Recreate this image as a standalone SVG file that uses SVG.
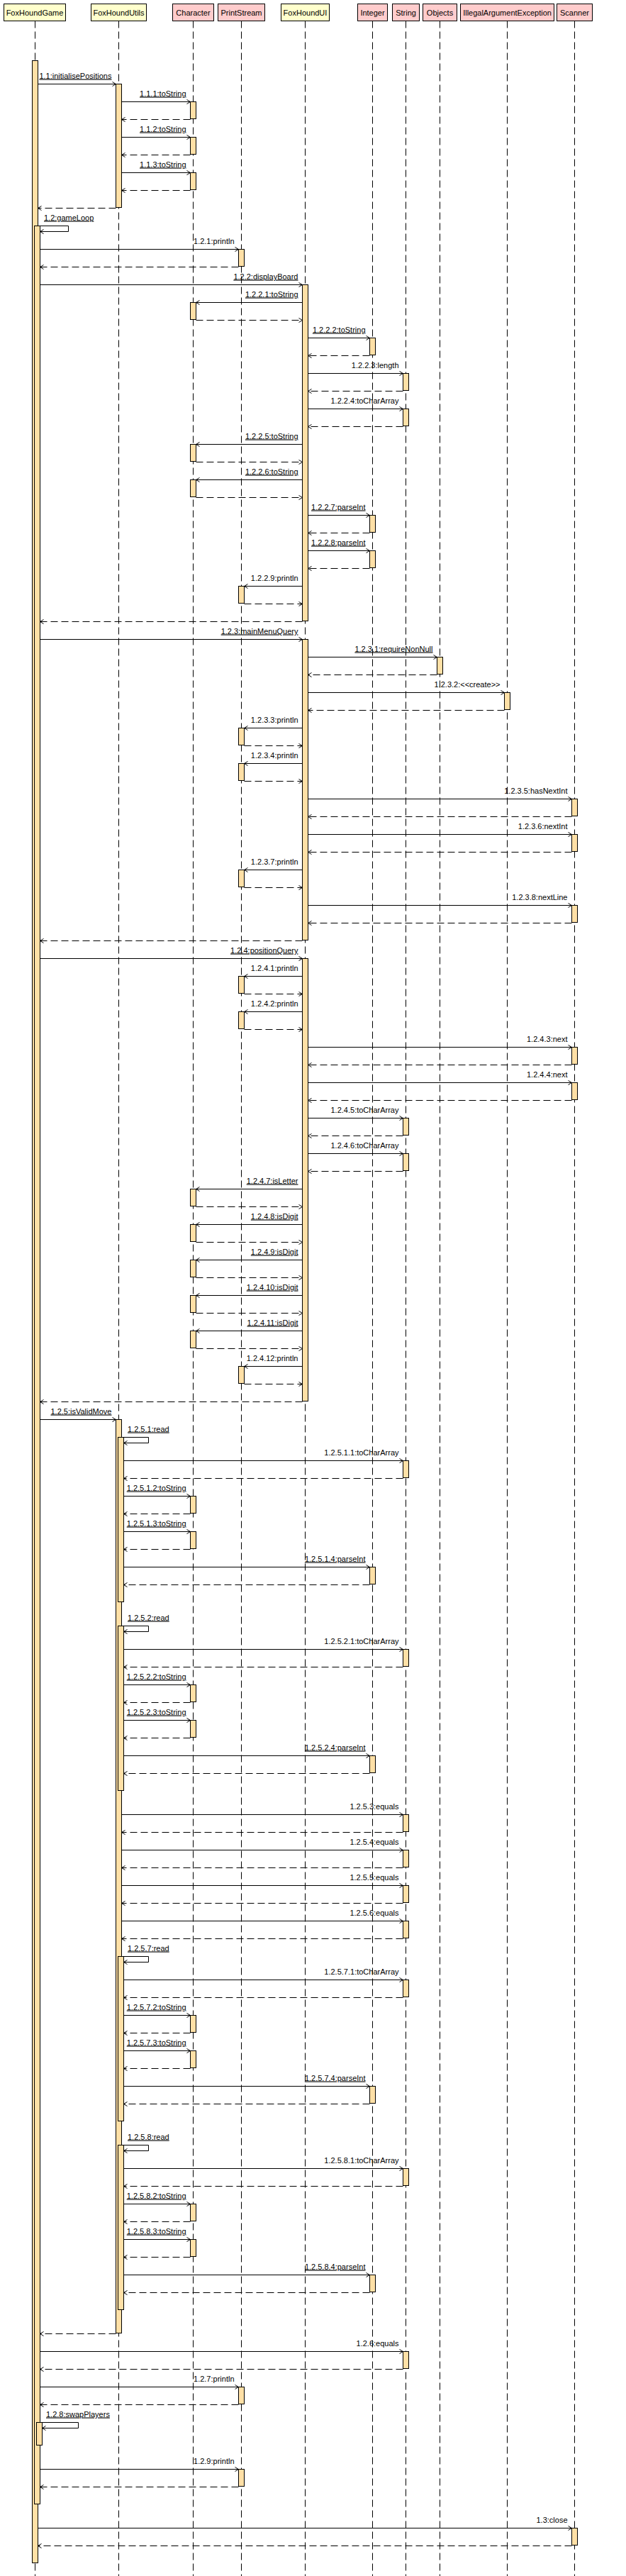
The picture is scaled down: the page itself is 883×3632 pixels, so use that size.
<svg xmlns="http://www.w3.org/2000/svg" width="883" height="3632" viewBox="0 0 883 3632">
<style>
.hdr{stroke:#000;stroke-width:1}
.y{fill:#ffffcc}
.p{fill:#ffcccc}
.ht{font-family:"Liberation Sans",Arial,sans-serif;font-size:11px;fill:#000;text-anchor:middle}
.ll{stroke:#000;stroke-width:1;stroke-dasharray:10 5;fill:none}
.act{fill:#ffe0a6;stroke:#000;stroke-width:1}
.msg{stroke:#000;stroke-width:1;fill:none;marker-end:url(#ah)}
.ret{stroke:#000;stroke-width:1;fill:none;stroke-dasharray:10 5;marker-end:url(#ah)}
.lbl{font-family:"Liberation Sans",Arial,sans-serif;font-size:11px;fill:#000;text-anchor:end}
.self{text-anchor:start}
.u{text-decoration:underline}
</style>
<defs>
<marker id="ah" markerUnits="userSpaceOnUse" markerWidth="10" markerHeight="10" refX="6" refY="4" orient="auto">
<path d="M1,1 L6,4 L1,7" fill="none" stroke="#000" stroke-width="1" stroke-dasharray="none"/>
</marker>
</defs>
<rect x="0" y="0" width="883" height="3632" fill="#fff"/>

<g id="FoxHoundGame">
<rect class="hdr y" x="5.5" y="5.5" width="87" height="24"/>
<text class="ht" x="49" y="22">FoxHoundGame</text>
<line class="ll" x1="49.5" y1="29.5" x2="49.5" y2="3632"/>
<rect class="act" x="45.5" y="85.5" width="8" height="3528"/>
<rect class="act" x="48.5" y="318.5" width="8" height="3212"/>
<rect class="act" x="51.5" y="3415.5" width="8" height="32"/>
</g>

<g id="FoxHoundUtils">
<rect class="hdr y" x="128.5" y="5.5" width="78" height="24"/>
<text class="ht" x="167.5" y="22">FoxHoundUtils</text>
<line class="ll" x1="167.5" y1="29.5" x2="167.5" y2="3632"/>
<rect class="act" x="163.5" y="118.5" width="8" height="174"/>
<rect class="act" x="163.5" y="2001.5" width="8" height="1288"/>
<rect class="act" x="166.5" y="2026.5" width="8" height="232"/>
<rect class="act" x="166.5" y="2292.5" width="8" height="232"/>
<rect class="act" x="166.5" y="2758.5" width="8" height="232"/>
<rect class="act" x="166.5" y="3024.5" width="8" height="232"/>
</g>

<g id="Character">
<rect class="hdr p" x="243.5" y="5.5" width="58" height="24"/>
<text class="ht" x="272.5" y="22">Character</text>
<line class="ll" x1="272.5" y1="29.5" x2="272.5" y2="3632"/>
<rect class="act" x="268.5" y="143.5" width="8" height="24"/>
<rect class="act" x="268.5" y="193.5" width="8" height="24"/>
<rect class="act" x="268.5" y="243.5" width="8" height="24"/>
<rect class="act" x="268.5" y="426.5" width="8" height="24"/>
<rect class="act" x="268.5" y="626.5" width="8" height="24"/>
<rect class="act" x="268.5" y="676.5" width="8" height="24"/>
<rect class="act" x="268.5" y="1676.5" width="8" height="24"/>
<rect class="act" x="268.5" y="1726.5" width="8" height="24"/>
<rect class="act" x="268.5" y="1776.5" width="8" height="24"/>
<rect class="act" x="268.5" y="1826.5" width="8" height="24"/>
<rect class="act" x="268.5" y="1876.5" width="8" height="24"/>
<rect class="act" x="268.5" y="2109.5" width="8" height="24"/>
<rect class="act" x="268.5" y="2159.5" width="8" height="24"/>
<rect class="act" x="268.5" y="2375.5" width="8" height="24"/>
<rect class="act" x="268.5" y="2425.5" width="8" height="24"/>
<rect class="act" x="268.5" y="2841.5" width="8" height="24"/>
<rect class="act" x="268.5" y="2891.5" width="8" height="24"/>
<rect class="act" x="268.5" y="3107.5" width="8" height="24"/>
<rect class="act" x="268.5" y="3157.5" width="8" height="24"/>
</g>

<g id="PrintStream">
<rect class="hdr p" x="307.5" y="5.5" width="66" height="24"/>
<text class="ht" x="340.5" y="22">PrintStream</text>
<line class="ll" x1="340.5" y1="29.5" x2="340.5" y2="3632"/>
<rect class="act" x="336.5" y="351.5" width="8" height="24"/>
<rect class="act" x="336.5" y="826.5" width="8" height="24"/>
<rect class="act" x="336.5" y="1026.5" width="8" height="24"/>
<rect class="act" x="336.5" y="1076.5" width="8" height="24"/>
<rect class="act" x="336.5" y="1226.5" width="8" height="24"/>
<rect class="act" x="336.5" y="1376.5" width="8" height="24"/>
<rect class="act" x="336.5" y="1426.5" width="8" height="24"/>
<rect class="act" x="336.5" y="1926.5" width="8" height="24"/>
<rect class="act" x="336.5" y="3365.5" width="8" height="24"/>
<rect class="act" x="336.5" y="3481.5" width="8" height="24"/>
</g>

<g id="FoxHoundUI">
<rect class="hdr y" x="396.5" y="5.5" width="68" height="24"/>
<text class="ht" x="430.5" y="22">FoxHoundUI</text>
<line class="ll" x1="430.5" y1="29.5" x2="430.5" y2="3632"/>
<rect class="act" x="426.5" y="401.5" width="8" height="474"/>
<rect class="act" x="426.5" y="901.5" width="8" height="424"/>
<rect class="act" x="426.5" y="1351.5" width="8" height="624"/>
</g>

<g id="Integer">
<rect class="hdr p" x="504.5" y="5.5" width="42" height="24"/>
<text class="ht" x="525.5" y="22">Integer</text>
<line class="ll" x1="525.5" y1="29.5" x2="525.5" y2="3632"/>
<rect class="act" x="521.5" y="476.5" width="8" height="24"/>
<rect class="act" x="521.5" y="726.5" width="8" height="24"/>
<rect class="act" x="521.5" y="776.5" width="8" height="24"/>
<rect class="act" x="521.5" y="2209.5" width="8" height="24"/>
<rect class="act" x="521.5" y="2475.5" width="8" height="24"/>
<rect class="act" x="521.5" y="2941.5" width="8" height="24"/>
<rect class="act" x="521.5" y="3207.5" width="8" height="24"/>
</g>

<g id="String">
<rect class="hdr p" x="553.5" y="5.5" width="38" height="24"/>
<text class="ht" x="572.5" y="22">String</text>
<line class="ll" x1="572.5" y1="29.5" x2="572.5" y2="3632"/>
<rect class="act" x="568.5" y="526.5" width="8" height="24"/>
<rect class="act" x="568.5" y="576.5" width="8" height="24"/>
<rect class="act" x="568.5" y="1576.5" width="8" height="24"/>
<rect class="act" x="568.5" y="1626.5" width="8" height="24"/>
<rect class="act" x="568.5" y="2059.5" width="8" height="24"/>
<rect class="act" x="568.5" y="2325.5" width="8" height="24"/>
<rect class="act" x="568.5" y="2558.5" width="8" height="24"/>
<rect class="act" x="568.5" y="2608.5" width="8" height="24"/>
<rect class="act" x="568.5" y="2658.5" width="8" height="24"/>
<rect class="act" x="568.5" y="2708.5" width="8" height="24"/>
<rect class="act" x="568.5" y="2791.5" width="8" height="24"/>
<rect class="act" x="568.5" y="3057.5" width="8" height="24"/>
<rect class="act" x="568.5" y="3315.5" width="8" height="24"/>
</g>

<g id="Objects">
<rect class="hdr p" x="596.5" y="5.5" width="48" height="24"/>
<text class="ht" x="620.5" y="22">Objects</text>
<line class="ll" x1="620.5" y1="29.5" x2="620.5" y2="3632"/>
<rect class="act" x="616.5" y="926.5" width="8" height="24"/>
</g>

<g id="IllegalArgumentException">
<rect class="hdr p" x="649.5" y="5.5" width="132" height="24"/>
<text class="ht" x="715.5" y="22">IllegalArgumentException</text>
<line class="ll" x1="715.5" y1="29.5" x2="715.5" y2="3632"/>
<rect class="act" x="711.5" y="976.5" width="8" height="24"/>
</g>

<g id="Scanner">
<rect class="hdr p" x="785.5" y="5.5" width="50" height="24"/>
<text class="ht" x="810.5" y="22">Scanner</text>
<line class="ll" x1="810.5" y1="29.5" x2="810.5" y2="3632"/>
<rect class="act" x="806.5" y="1126.5" width="8" height="24"/>
<rect class="act" x="806.5" y="1176.5" width="8" height="24"/>
<rect class="act" x="806.5" y="1276.5" width="8" height="24"/>
<rect class="act" x="806.5" y="1476.5" width="8" height="24"/>
<rect class="act" x="806.5" y="1526.5" width="8" height="24"/>
<rect class="act" x="806.5" y="3564.5" width="8" height="24"/>
</g>

<g id="connectors">
<line class="msg" x1="53.5" y1="118.5" x2="163.5" y2="118.5"/>
<text class="lbl u" x="157.5" y="110.5">1.1:initialisePositions</text>
<line class="msg" x1="171.5" y1="143.5" x2="268.5" y2="143.5"/>
<text class="lbl u" x="262.5" y="135.5">1.1.1:toString</text>
<line class="ret" x1="268.5" y1="168.5" x2="171.5" y2="168.5"/>
<line class="msg" x1="171.5" y1="193.5" x2="268.5" y2="193.5"/>
<text class="lbl u" x="262.5" y="185.5">1.1.2:toString</text>
<line class="ret" x1="268.5" y1="218.5" x2="171.5" y2="218.5"/>
<line class="msg" x1="171.5" y1="243.5" x2="268.5" y2="243.5"/>
<text class="lbl u" x="262.5" y="235.5">1.1.3:toString</text>
<line class="ret" x1="268.5" y1="268.5" x2="171.5" y2="268.5"/>
<line class="ret" x1="163.5" y1="293.5" x2="53.5" y2="293.5"/>

<polyline class="msg" points="56.5,318.5 96.5,318.5 96.5,326.5 56.5,326.5"/>
<text class="lbl self u" x="62" y="310.5">1.2:gameLoop</text>

<line class="msg" x1="56.5" y1="351.5" x2="336.5" y2="351.5"/>
<text class="lbl" x="330.5" y="343.5">1.2.1:println</text>
<line class="ret" x1="336.5" y1="376.5" x2="56.5" y2="376.5"/>

<line class="msg" x1="56.5" y1="401.5" x2="426.5" y2="401.5"/>
<text class="lbl u" x="420.5" y="393.5">1.2.2:displayBoard</text>
<line class="msg" x1="426.5" y1="426.5" x2="276.5" y2="426.5"/>
<text class="lbl u" x="420.5" y="418.5">1.2.2.1:toString</text>
<line class="ret" x1="276.5" y1="451.5" x2="426.5" y2="451.5"/>
<line class="msg" x1="434.5" y1="476.5" x2="521.5" y2="476.5"/>
<text class="lbl u" x="515.5" y="468.5">1.2.2.2:toString</text>
<line class="ret" x1="521.5" y1="501.5" x2="434.5" y2="501.5"/>
<line class="msg" x1="434.5" y1="526.5" x2="568.5" y2="526.5"/>
<text class="lbl" x="562.5" y="518.5">1.2.2.3:length</text>
<line class="ret" x1="568.5" y1="551.5" x2="434.5" y2="551.5"/>
<line class="msg" x1="434.5" y1="576.5" x2="568.5" y2="576.5"/>
<text class="lbl" x="562.5" y="568.5">1.2.2.4:toCharArray</text>
<line class="ret" x1="568.5" y1="601.5" x2="434.5" y2="601.5"/>
<line class="msg" x1="426.5" y1="626.5" x2="276.5" y2="626.5"/>
<text class="lbl u" x="420.5" y="618.5">1.2.2.5:toString</text>
<line class="ret" x1="276.5" y1="651.5" x2="426.5" y2="651.5"/>
<line class="msg" x1="426.5" y1="676.5" x2="276.5" y2="676.5"/>
<text class="lbl u" x="420.5" y="668.5">1.2.2.6:toString</text>
<line class="ret" x1="276.5" y1="701.5" x2="426.5" y2="701.5"/>
<line class="msg" x1="434.5" y1="726.5" x2="521.5" y2="726.5"/>
<text class="lbl u" x="515.5" y="718.5">1.2.2.7:parseInt</text>
<line class="ret" x1="521.5" y1="751.5" x2="434.5" y2="751.5"/>
<line class="msg" x1="434.5" y1="776.5" x2="521.5" y2="776.5"/>
<text class="lbl u" x="515.5" y="768.5">1.2.2.8:parseInt</text>
<line class="ret" x1="521.5" y1="801.5" x2="434.5" y2="801.5"/>
<line class="msg" x1="426.5" y1="826.5" x2="344.5" y2="826.5"/>
<text class="lbl" x="420.5" y="818.5">1.2.2.9:println</text>
<line class="ret" x1="344.5" y1="851.5" x2="426.5" y2="851.5"/>
<line class="ret" x1="426.5" y1="876.5" x2="56.5" y2="876.5"/>

<line class="msg" x1="56.5" y1="901.5" x2="426.5" y2="901.5"/>
<text class="lbl u" x="420.5" y="893.5">1.2.3:mainMenuQuery</text>
<line class="msg" x1="434.5" y1="926.5" x2="616.5" y2="926.5"/>
<text class="lbl u" x="610.5" y="918.5">1.2.3.1:requireNonNull</text>
<line class="ret" x1="616.5" y1="951.5" x2="434.5" y2="951.5"/>
<line class="msg" x1="434.5" y1="976.5" x2="711.5" y2="976.5"/>
<text class="lbl" x="705.5" y="968.5">1.2.3.2:&lt;&lt;create&gt;&gt;</text>
<line class="ret" x1="711.5" y1="1001.5" x2="434.5" y2="1001.5"/>
<line class="msg" x1="426.5" y1="1026.5" x2="344.5" y2="1026.5"/>
<text class="lbl" x="420.5" y="1018.5">1.2.3.3:println</text>
<line class="ret" x1="344.5" y1="1051.5" x2="426.5" y2="1051.5"/>
<line class="msg" x1="426.5" y1="1076.5" x2="344.5" y2="1076.5"/>
<text class="lbl" x="420.5" y="1068.5">1.2.3.4:println</text>
<line class="ret" x1="344.5" y1="1101.5" x2="426.5" y2="1101.5"/>
<line class="msg" x1="434.5" y1="1126.5" x2="806.5" y2="1126.5"/>
<text class="lbl" x="800.5" y="1118.5">1.2.3.5:hasNextInt</text>
<line class="ret" x1="806.5" y1="1151.5" x2="434.5" y2="1151.5"/>
<line class="msg" x1="434.5" y1="1176.5" x2="806.5" y2="1176.5"/>
<text class="lbl" x="800.5" y="1168.5">1.2.3.6:nextInt</text>
<line class="ret" x1="806.5" y1="1201.5" x2="434.5" y2="1201.5"/>
<line class="msg" x1="426.5" y1="1226.5" x2="344.5" y2="1226.5"/>
<text class="lbl" x="420.5" y="1218.5">1.2.3.7:println</text>
<line class="ret" x1="344.5" y1="1251.5" x2="426.5" y2="1251.5"/>
<line class="msg" x1="434.5" y1="1276.5" x2="806.5" y2="1276.5"/>
<text class="lbl" x="800.5" y="1268.5">1.2.3.8:nextLine</text>
<line class="ret" x1="806.5" y1="1301.5" x2="434.5" y2="1301.5"/>
<line class="ret" x1="426.5" y1="1326.5" x2="56.5" y2="1326.5"/>

<line class="msg" x1="56.5" y1="1351.5" x2="426.5" y2="1351.5"/>
<text class="lbl u" x="420.5" y="1343.5">1.2.4:positionQuery</text>
<line class="msg" x1="426.5" y1="1376.5" x2="344.5" y2="1376.5"/>
<text class="lbl" x="420.5" y="1368.5">1.2.4.1:println</text>
<line class="ret" x1="344.5" y1="1401.5" x2="426.5" y2="1401.5"/>
<line class="msg" x1="426.5" y1="1426.5" x2="344.5" y2="1426.5"/>
<text class="lbl" x="420.5" y="1418.5">1.2.4.2:println</text>
<line class="ret" x1="344.5" y1="1451.5" x2="426.5" y2="1451.5"/>
<line class="msg" x1="434.5" y1="1476.5" x2="806.5" y2="1476.5"/>
<text class="lbl" x="800.5" y="1468.5">1.2.4.3:next</text>
<line class="ret" x1="806.5" y1="1501.5" x2="434.5" y2="1501.5"/>
<line class="msg" x1="434.5" y1="1526.5" x2="806.5" y2="1526.5"/>
<text class="lbl" x="800.5" y="1518.5">1.2.4.4:next</text>
<line class="ret" x1="806.5" y1="1551.5" x2="434.5" y2="1551.5"/>
<line class="msg" x1="434.5" y1="1576.5" x2="568.5" y2="1576.5"/>
<text class="lbl" x="562.5" y="1568.5">1.2.4.5:toCharArray</text>
<line class="ret" x1="568.5" y1="1601.5" x2="434.5" y2="1601.5"/>
<line class="msg" x1="434.5" y1="1626.5" x2="568.5" y2="1626.5"/>
<text class="lbl" x="562.5" y="1618.5">1.2.4.6:toCharArray</text>
<line class="ret" x1="568.5" y1="1651.5" x2="434.5" y2="1651.5"/>
<line class="msg" x1="426.5" y1="1676.5" x2="276.5" y2="1676.5"/>
<text class="lbl u" x="420.5" y="1668.5">1.2.4.7:isLetter</text>
<line class="ret" x1="276.5" y1="1701.5" x2="426.5" y2="1701.5"/>
<line class="msg" x1="426.5" y1="1726.5" x2="276.5" y2="1726.5"/>
<text class="lbl u" x="420.5" y="1718.5">1.2.4.8:isDigit</text>
<line class="ret" x1="276.5" y1="1751.5" x2="426.5" y2="1751.5"/>
<line class="msg" x1="426.5" y1="1776.5" x2="276.5" y2="1776.5"/>
<text class="lbl u" x="420.5" y="1768.5">1.2.4.9:isDigit</text>
<line class="ret" x1="276.5" y1="1801.5" x2="426.5" y2="1801.5"/>
<line class="msg" x1="426.5" y1="1826.5" x2="276.5" y2="1826.5"/>
<text class="lbl u" x="420.5" y="1818.5">1.2.4.10:isDigit</text>
<line class="ret" x1="276.5" y1="1851.5" x2="426.5" y2="1851.5"/>
<line class="msg" x1="426.5" y1="1876.5" x2="276.5" y2="1876.5"/>
<text class="lbl u" x="420.5" y="1868.5">1.2.4.11:isDigit</text>
<line class="ret" x1="276.5" y1="1901.5" x2="426.5" y2="1901.5"/>
<line class="msg" x1="426.5" y1="1926.5" x2="344.5" y2="1926.5"/>
<text class="lbl" x="420.5" y="1918.5">1.2.4.12:println</text>
<line class="ret" x1="344.5" y1="1951.5" x2="426.5" y2="1951.5"/>
<line class="ret" x1="426.5" y1="1976.5" x2="56.5" y2="1976.5"/>

<line class="msg" x1="56.5" y1="2001.5" x2="163.5" y2="2001.5"/>
<text class="lbl u" x="157.5" y="1993.5">1.2.5:isValidMove</text>

<polyline class="msg" points="174.5,2026.5 209.5,2026.5 209.5,2034.5 174.5,2034.5"/>
<text class="lbl self u" x="180" y="2018.5">1.2.5.1:read</text>
<line class="msg" x1="174.5" y1="2059.5" x2="568.5" y2="2059.5"/>
<text class="lbl" x="562.5" y="2051.5">1.2.5.1.1:toCharArray</text>
<line class="ret" x1="568.5" y1="2084.5" x2="174.5" y2="2084.5"/>
<line class="msg" x1="174.5" y1="2109.5" x2="268.5" y2="2109.5"/>
<text class="lbl u" x="262.5" y="2101.5">1.2.5.1.2:toString</text>
<line class="ret" x1="268.5" y1="2134.5" x2="174.5" y2="2134.5"/>
<line class="msg" x1="174.5" y1="2159.5" x2="268.5" y2="2159.5"/>
<text class="lbl u" x="262.5" y="2151.5">1.2.5.1.3:toString</text>
<line class="ret" x1="268.5" y1="2184.5" x2="174.5" y2="2184.5"/>
<line class="msg" x1="174.5" y1="2209.5" x2="521.5" y2="2209.5"/>
<text class="lbl u" x="515.5" y="2201.5">1.2.5.1.4:parseInt</text>
<line class="ret" x1="521.5" y1="2234.5" x2="174.5" y2="2234.5"/>

<polyline class="msg" points="174.5,2292.5 209.5,2292.5 209.5,2300.5 174.5,2300.5"/>
<text class="lbl self u" x="180" y="2284.5">1.2.5.2:read</text>
<line class="msg" x1="174.5" y1="2325.5" x2="568.5" y2="2325.5"/>
<text class="lbl" x="562.5" y="2317.5">1.2.5.2.1:toCharArray</text>
<line class="ret" x1="568.5" y1="2350.5" x2="174.5" y2="2350.5"/>
<line class="msg" x1="174.5" y1="2375.5" x2="268.5" y2="2375.5"/>
<text class="lbl u" x="262.5" y="2367.5">1.2.5.2.2:toString</text>
<line class="ret" x1="268.5" y1="2400.5" x2="174.5" y2="2400.5"/>
<line class="msg" x1="174.5" y1="2425.5" x2="268.5" y2="2425.5"/>
<text class="lbl u" x="262.5" y="2417.5">1.2.5.2.3:toString</text>
<line class="ret" x1="268.5" y1="2450.5" x2="174.5" y2="2450.5"/>
<line class="msg" x1="174.5" y1="2475.5" x2="521.5" y2="2475.5"/>
<text class="lbl u" x="515.5" y="2467.5">1.2.5.2.4:parseInt</text>
<line class="ret" x1="521.5" y1="2500.5" x2="174.5" y2="2500.5"/>

<line class="msg" x1="171.5" y1="2558.5" x2="568.5" y2="2558.5"/>
<text class="lbl" x="562.5" y="2550.5">1.2.5.3:equals</text>
<line class="ret" x1="568.5" y1="2583.5" x2="171.5" y2="2583.5"/>
<line class="msg" x1="171.5" y1="2608.5" x2="568.5" y2="2608.5"/>
<text class="lbl" x="562.5" y="2600.5">1.2.5.4:equals</text>
<line class="ret" x1="568.5" y1="2633.5" x2="171.5" y2="2633.5"/>
<line class="msg" x1="171.5" y1="2658.5" x2="568.5" y2="2658.5"/>
<text class="lbl" x="562.5" y="2650.5">1.2.5.5:equals</text>
<line class="ret" x1="568.5" y1="2683.5" x2="171.5" y2="2683.5"/>
<line class="msg" x1="171.5" y1="2708.5" x2="568.5" y2="2708.5"/>
<text class="lbl" x="562.5" y="2700.5">1.2.5.6:equals</text>
<line class="ret" x1="568.5" y1="2733.5" x2="171.5" y2="2733.5"/>

<polyline class="msg" points="174.5,2758.5 209.5,2758.5 209.5,2766.5 174.5,2766.5"/>
<text class="lbl self u" x="180" y="2750.5">1.2.5.7:read</text>
<line class="msg" x1="174.5" y1="2791.5" x2="568.5" y2="2791.5"/>
<text class="lbl" x="562.5" y="2783.5">1.2.5.7.1:toCharArray</text>
<line class="ret" x1="568.5" y1="2816.5" x2="174.5" y2="2816.5"/>
<line class="msg" x1="174.5" y1="2841.5" x2="268.5" y2="2841.5"/>
<text class="lbl u" x="262.5" y="2833.5">1.2.5.7.2:toString</text>
<line class="ret" x1="268.5" y1="2866.5" x2="174.5" y2="2866.5"/>
<line class="msg" x1="174.5" y1="2891.5" x2="268.5" y2="2891.5"/>
<text class="lbl u" x="262.5" y="2883.5">1.2.5.7.3:toString</text>
<line class="ret" x1="268.5" y1="2916.5" x2="174.5" y2="2916.5"/>
<line class="msg" x1="174.5" y1="2941.5" x2="521.5" y2="2941.5"/>
<text class="lbl u" x="515.5" y="2933.5">1.2.5.7.4:parseInt</text>
<line class="ret" x1="521.5" y1="2966.5" x2="174.5" y2="2966.5"/>

<polyline class="msg" points="174.5,3024.5 209.5,3024.5 209.5,3032.5 174.5,3032.5"/>
<text class="lbl self u" x="180" y="3016.5">1.2.5.8:read</text>
<line class="msg" x1="174.5" y1="3057.5" x2="568.5" y2="3057.5"/>
<text class="lbl" x="562.5" y="3049.5">1.2.5.8.1:toCharArray</text>
<line class="ret" x1="568.5" y1="3082.5" x2="174.5" y2="3082.5"/>
<line class="msg" x1="174.5" y1="3107.5" x2="268.5" y2="3107.5"/>
<text class="lbl u" x="262.5" y="3099.5">1.2.5.8.2:toString</text>
<line class="ret" x1="268.5" y1="3132.5" x2="174.5" y2="3132.5"/>
<line class="msg" x1="174.5" y1="3157.5" x2="268.5" y2="3157.5"/>
<text class="lbl u" x="262.5" y="3149.5">1.2.5.8.3:toString</text>
<line class="ret" x1="268.5" y1="3182.5" x2="174.5" y2="3182.5"/>
<line class="msg" x1="174.5" y1="3207.5" x2="521.5" y2="3207.5"/>
<text class="lbl u" x="515.5" y="3199.5">1.2.5.8.4:parseInt</text>
<line class="ret" x1="521.5" y1="3232.5" x2="174.5" y2="3232.5"/>
<line class="ret" x1="163.5" y1="3290.5" x2="56.5" y2="3290.5"/>

<line class="msg" x1="56.5" y1="3315.5" x2="568.5" y2="3315.5"/>
<text class="lbl" x="562.5" y="3307.5">1.2.6:equals</text>
<line class="ret" x1="568.5" y1="3340.5" x2="56.5" y2="3340.5"/>
<line class="msg" x1="56.5" y1="3365.5" x2="336.5" y2="3365.5"/>
<text class="lbl" x="330.5" y="3357.5">1.2.7:println</text>
<line class="ret" x1="336.5" y1="3390.5" x2="56.5" y2="3390.5"/>
<polyline class="msg" points="59.5,3415.5 110.5,3415.5 110.5,3423.5 59.5,3423.5"/>
<text class="lbl self u" x="65" y="3407.5">1.2.8:swapPlayers</text>
<line class="msg" x1="56.5" y1="3481.5" x2="336.5" y2="3481.5"/>
<text class="lbl" x="330.5" y="3473.5">1.2.9:println</text>
<line class="ret" x1="336.5" y1="3506.5" x2="56.5" y2="3506.5"/>

<line class="msg" x1="53.5" y1="3564.5" x2="806.5" y2="3564.5"/>
<text class="lbl" x="800.5" y="3556.5">1.3:close</text>
<line class="ret" x1="806.5" y1="3589.5" x2="53.5" y2="3589.5"/>
</g>
</svg>
